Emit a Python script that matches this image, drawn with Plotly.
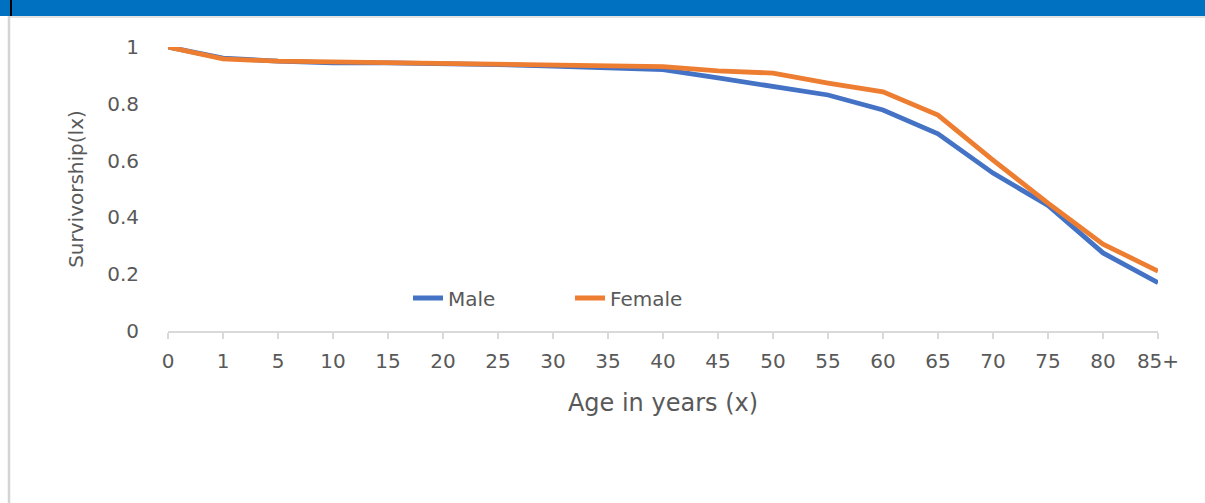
import plotly.graph_objects as go

# Life-table survivorship by age group
ages = ["0", "1", "5", "10", "15", "20", "25", "30", "35", "40",
        "45", "50", "55", "60", "65", "70", "75", "80", "85+"]
male_lx = [1.0, 0.961, 0.950, 0.944, 0.944, 0.942, 0.938, 0.933, 0.928, 0.920,
           0.891, 0.863, 0.831, 0.778, 0.694, 0.556, 0.442, 0.275, 0.170]
female_lx = [1.0, 0.958, 0.950, 0.947, 0.947, 0.943, 0.940, 0.938, 0.934, 0.931,
             0.916, 0.908, 0.873, 0.842, 0.760, 0.602, 0.450, 0.306, 0.211]

W, H = 1205, 503
L, R, T, B = 168, 47, 47, 172
PW, PH = W - L - R, H - T - B


def px_x(p):
    return (p - L) / PW


def px_y(p):
    return (H - B - p) / PH


FONT = "DejaVu Sans"
GREY = "#595959"

fig = go.Figure()
fig.add_trace(go.Scatter(x=ages, y=male_lx, name="Male", mode="lines",
                         line=dict(color="#4472C4", width=4.8)))
fig.add_trace(go.Scatter(x=ages, y=female_lx, name="Female", mode="lines",
                         line=dict(color="#ED7D31", width=4.8)))

# window chrome: blue header bar, separator and left frame line
shapes = [
    dict(type="rect", xref="paper", yref="paper", x0=px_x(0), x1=px_x(W),
         y0=px_y(16), y1=px_y(-2), fillcolor="#0070C0", line_width=0, layer="below"),
    dict(type="rect", xref="paper", yref="paper", x0=px_x(10), x1=px_x(12),
         y0=px_y(16), y1=px_y(-2), fillcolor="#000000", line_width=0),
    dict(type="line", xref="paper", yref="paper", x0=px_x(10), x1=px_x(W),
         y0=px_y(17), y1=px_y(17), line=dict(color="#e3e3e3", width=2)),
    dict(type="line", xref="paper", yref="paper", x0=px_x(9), x1=px_x(9),
         y0=px_y(16), y1=px_y(H + 2), line=dict(color="#d4d4d4", width=2.5)),
]

fig.update_layout(
    width=W, height=H,
    margin=dict(l=L, r=R, t=T, b=B, pad=0),
    paper_bgcolor="white", plot_bgcolor="white",
    font=dict(family=FONT, color=GREY, size=20),
    shapes=shapes,
    showlegend=True,
    legend=dict(orientation="h", x=px_x(408), y=px_y(298),
                xanchor="left", yanchor="middle",
                font=dict(size=20, color=GREY), bgcolor="rgba(0,0,0,0)",
                itemwidth=30, entrywidth=117, tracegroupgap=0),
    xaxis=dict(
        type="category", range=[0, len(ages) - 1],
        showline=True, linecolor="#d9d9d9", linewidth=2,
        ticks="outside", ticklen=6, tickcolor="#d9d9d9", tickwidth=2,
        showgrid=False, zeroline=False,
        ticklabelstandoff=5,
        tickfont=dict(size=20, color=GREY),
        title=dict(text="Age in years (x)", font=dict(size=24, color=GREY), standoff=22),
    ),
    yaxis=dict(
        range=[0, 1], tickvals=[0, 0.2, 0.4, 0.6, 0.8, 1],
        ticktext=["0", "0.2", "0.4", "0.6", "0.8", "1"],
        showline=False, showgrid=False, zeroline=False, ticks="",
        ticklabelstandoff=28,
        tickfont=dict(size=20, color=GREY),
        title=dict(text="Survivorship(lx)", font=dict(size=20, color=GREY), standoff=18),
    ),
)

fig.write_html("out.html")
